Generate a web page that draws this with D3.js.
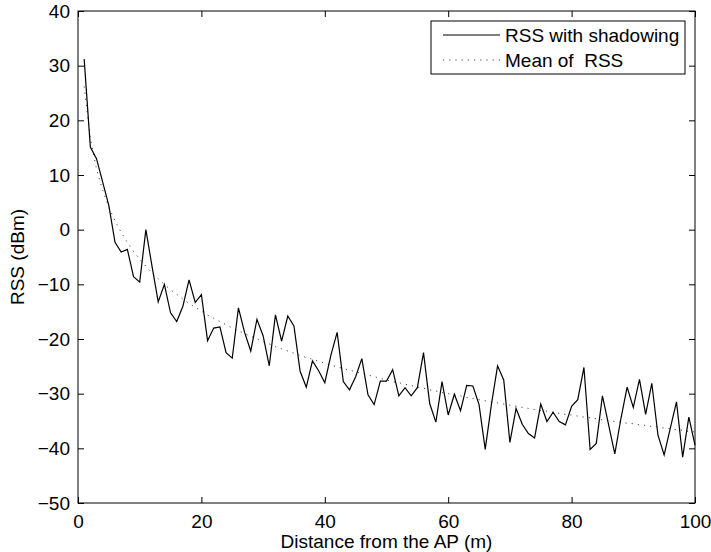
<!DOCTYPE html>
<html>
<head>
<meta charset="utf-8">
<script src="https://cdn.jsdelivr.net/npm/d3@7"></script>
<style>
  body { margin: 0; background: #fff; }
  text { font-family: "Liberation Sans", Arial, sans-serif; fill: #000; }
</style>
</head>
<body>
<div id="chart"></div>
<script>
var w = 711;
var h = 552;

// distance (m) for every sample
var distance = d3.range(1, 101);

// RSS with shadowing (dBm)
var rssShadow = [
  31.2, 15.1, 13.0, 8.7, 4.4, -2.3, -4.1, -3.6, -8.6, -9.6,
  0.0, -6.7, -13.2, -10.0, -15.2, -16.8, -14.0, -9.2, -13.3, -11.9,
  -20.3, -18.0, -17.8, -22.5, -23.5, -14.3, -18.8, -22.2, -16.4, -19.4,
  -24.9, -15.6, -20.4, -15.8, -17.6, -25.9, -28.8, -24.0, -25.8, -28.0,
  -22.9, -18.8, -27.8, -29.3, -26.9, -23.6, -30.2, -32.0, -27.7, -27.7,
  -25.6, -30.4, -28.9, -30.4, -28.9, -22.5, -31.8, -35.2, -27.8, -33.9,
  -30.1, -33.1, -28.5, -28.6, -32.0, -40.2, -32.0, -24.9, -27.5, -38.9,
  -32.7, -35.6, -37.3, -38.1, -31.9, -35.1, -33.4, -35.1, -35.7, -32.3,
  -31.1, -25.2, -40.2, -39.1, -30.4, -35.7, -41.0, -34.5, -28.8, -32.5,
  -27.4, -33.8, -28.1, -37.6, -41.2, -36.3, -31.5, -41.6, -34.3, -39.4
];

// mean RSS (dBm), dotted curve
var rssMean = [
  26.2, 16.7, 11.1, 7.2, 4.1, 1.6, -0.5, -2.3, -4.0, -5.4,
  -6.7, -7.9, -9.0, -10.0, -11.0, -11.8, -12.7, -13.5, -14.2, -14.9,
  -15.6, -16.2, -16.8, -17.4, -18.0, -18.5, -19.0, -19.5, -20.0, -20.5,
  -20.9, -21.4, -21.8, -22.2, -22.6, -23.0, -23.4, -23.7, -24.1, -24.4,
  -24.8, -25.1, -25.4, -25.7, -26.0, -26.3, -26.6, -26.9, -27.2, -27.5,
  -27.8, -28.0, -28.3, -28.5, -28.8, -29.0, -29.3, -29.5, -29.8, -30.0,
  -30.2, -30.4, -30.7, -30.9, -31.1, -31.3, -31.5, -31.7, -31.9, -32.1,
  -32.3, -32.5, -32.7, -32.9, -33.1, -33.2, -33.4, -33.6, -33.8, -33.9,
  -34.1, -34.3, -34.4, -34.6, -34.8, -34.9, -35.1, -35.2, -35.4, -35.5,
  -35.7, -35.8, -36.0, -36.1, -36.3, -36.4, -36.6, -36.7, -36.9, -37.0
];

var xTicks = [0, 20, 40, 60, 80, 100];
var yTicks = [-50, -40, -30, -20, -10, 0, 10, 20, 30, 40];
var legendLabels = ["RSS with shadowing", "Mean of  RSS"];

// plot box in pixels
var pL = 78, pR = 695, pT = 11, pB = 503;
var fs = "19px";

var svg = d3.select("#chart")
    .append("svg")
    .attr("width", w)
    .attr("height", h);

var x = d3.scaleLinear().domain([0, 100]).range([pL, pR]);
var y = d3.scaleLinear().domain([-50, 40]).range([pB, pT]);

// axes (ticks point inward, like matlab)
function fmt(d) { return d < 0 ? "\u2212" + Math.abs(d) : "" + d; }

svg.append("g")
    .attr("transform", "translate(0," + pB + ")")
    .call(d3.axisBottom(x).tickValues(xTicks).tickSizeInner(-6).tickSizeOuter(0).tickPadding(12).tickFormat(fmt));
svg.append("g")
    .attr("transform", "translate(0," + pT + ")")
    .call(d3.axisTop(x).tickValues(xTicks).tickSizeInner(-6).tickSizeOuter(0).tickFormat(""));
svg.append("g")
    .attr("transform", "translate(" + pL + ",0)")
    .call(d3.axisLeft(y).tickValues(yTicks).tickSizeInner(-6).tickSizeOuter(0).tickPadding(8).tickFormat(fmt));
svg.append("g")
    .attr("transform", "translate(" + pR + ",0)")
    .call(d3.axisRight(y).tickValues(yTicks).tickSizeInner(-6).tickSizeOuter(0).tickFormat(""));

svg.selectAll(".domain").remove();
svg.selectAll(".tick line").attr("stroke", "#000");
svg.selectAll(".tick text").style("font-size", fs).attr("fill", "#000");

svg.append("rect")
    .attr("x", pL).attr("y", pT)
    .attr("width", pR - pL).attr("height", pB - pT)
    .attr("fill", "none").attr("stroke", "#000").attr("stroke-width", 1);

// lines
var line = d3.line()
    .x(function(d) { return x(d[0]); })
    .y(function(d) { return y(d[1]); });

svg.append("path")
    .datum(distance.map(function(d, i) { return [d, rssMean[i]]; }))
    .attr("fill", "none")
    .attr("stroke", "#444")
    .attr("stroke-width", 1)
    .attr("stroke-dasharray", "1.2,5")
    .attr("d", line);

svg.append("path")
    .datum(distance.map(function(d, i) { return [d, rssShadow[i]]; }))
    .attr("fill", "none")
    .attr("stroke", "#000")
    .attr("stroke-width", 1.2)
    .attr("d", line);

// axis titles
svg.append("text")
    .attr("x", (pL + pR) / 2)
    .attr("y", 548)
    .attr("text-anchor", "middle")
    .style("font-size", fs)
    .text("Distance from the AP (m)");

svg.append("text")
    .attr("transform", "translate(24," + (pT + pB) / 2 + ") rotate(-90)")
    .attr("text-anchor", "middle")
    .style("font-size", fs)
    .text("RSS (dBm)");

// legend
var lg = svg.append("g");
lg.append("rect")
    .attr("x", 431).attr("y", 21)
    .attr("width", 254).attr("height", 53)
    .attr("fill", "#fff").attr("stroke", "#000").attr("stroke-width", 1);

lg.append("line")
    .attr("x1", 443).attr("x2", 500).attr("y1", 35).attr("y2", 35)
    .attr("stroke", "#000").attr("stroke-width", 1.2);
lg.append("line")
    .attr("x1", 443).attr("x2", 500).attr("y1", 60).attr("y2", 60)
    .attr("stroke", "#444").attr("stroke-width", 1).attr("stroke-dasharray", "1.2,5");

lg.selectAll("text.lab")
    .data(legendLabels)
    .enter().append("text")
    .attr("class", "lab")
    .attr("x", 505)
    .attr("y", function(d, i) { return 42 + i * 25; })
    .attr("xml:space", "preserve")
    .style("white-space", "pre")
    .style("font-size", fs)
    .text(function(d) { return d; });
</script>
</body>
</html>
